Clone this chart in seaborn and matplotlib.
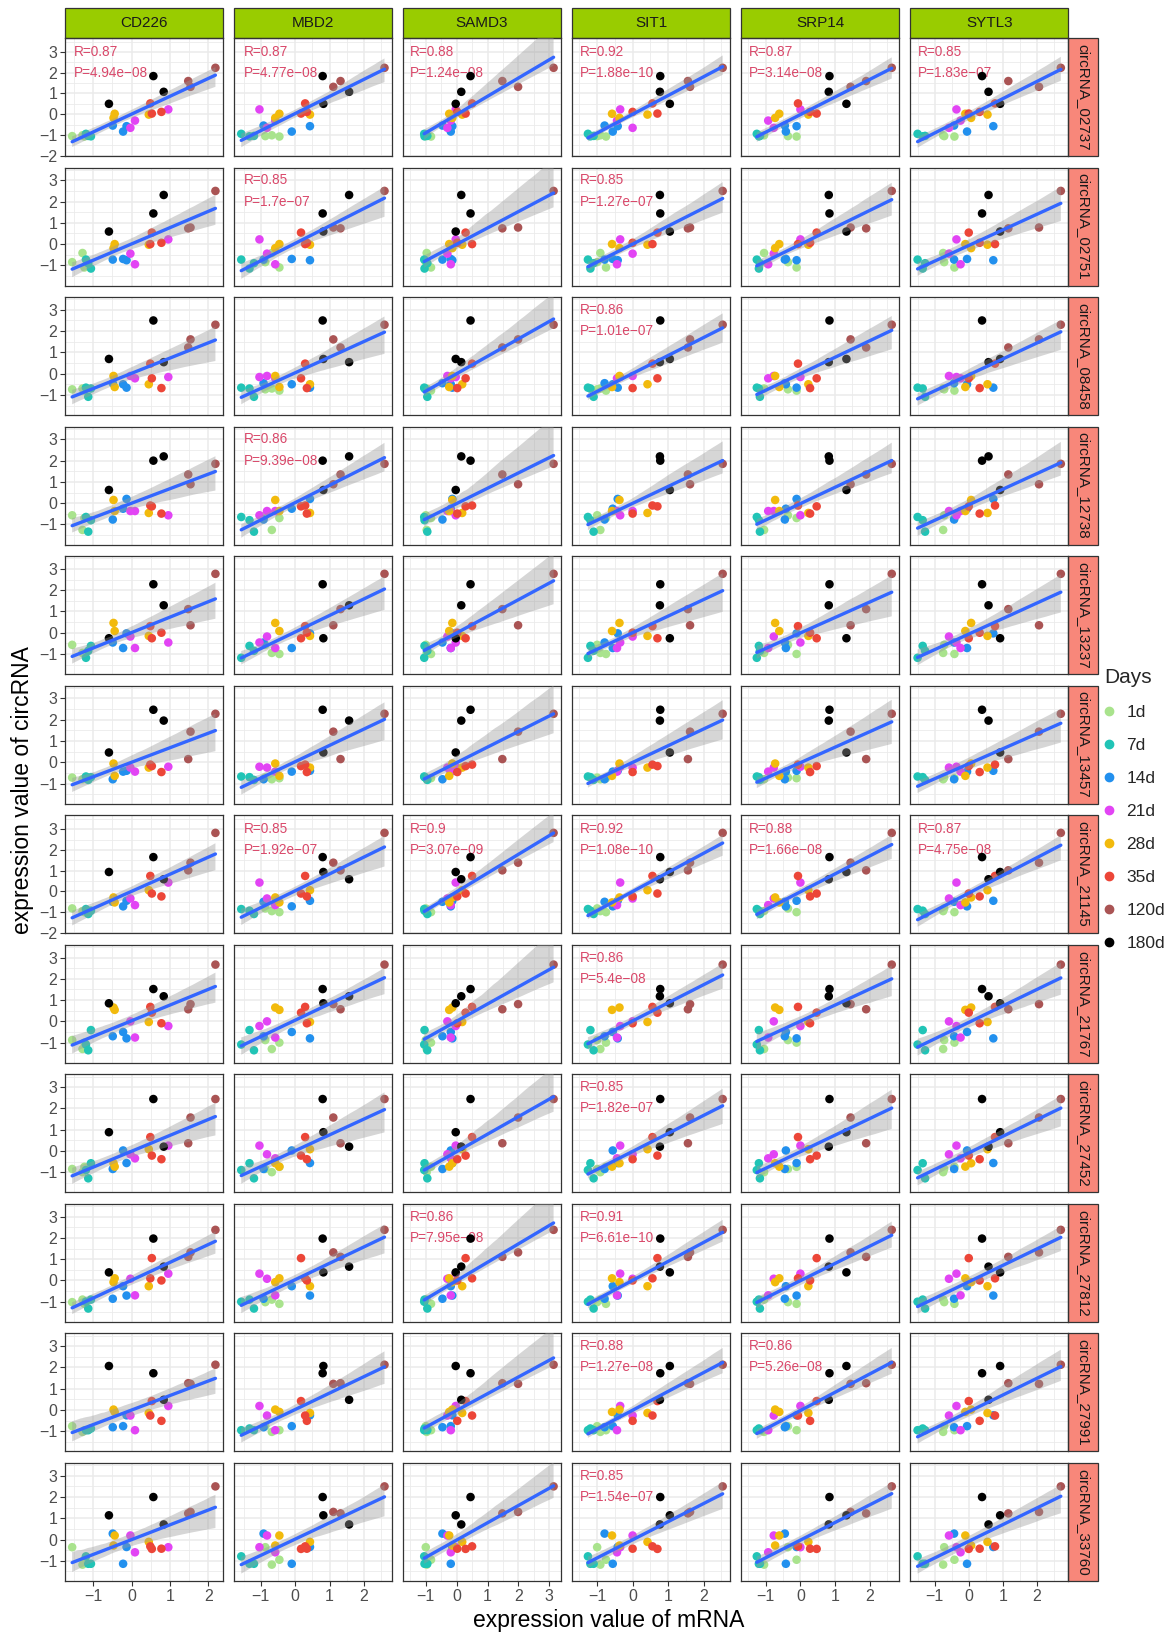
import matplotlib
matplotlib.use('Agg')
import pandas as pd
import matplotlib.pyplot as plt
import seaborn as sns
from matplotlib.patches import Rectangle
from matplotlib.lines import Line2D
from matplotlib.ticker import MultipleLocator

# --- data ---
days = ['1d', '7d', '14d', '21d', '28d', '35d', '120d', '180d']
day_colors = ['#A9E38D', '#21C4B6', '#2290EE', '#E244F4', '#F2BA0C', '#EC4638', '#AA5454', '#000000']
sample_days = [d for d in days for _ in range(3)]

mrna_names = ['CD226', 'MBD2', 'SAMD3', 'SIT1', 'SRP14', 'SYTL3']
cd226 = [-1.55, -1.28, -1.23, -1.19, -1.13, -1.06, -0.49, -0.22, -0.13, -0.03, 0.09, 0.96,
         -0.47, -0.44, 0.45, 0.49, 0.53, 0.78, 1.48, 1.54, 2.19, -0.59, 0.57, 0.84]
mbd2 = [-0.87, -0.68, -0.46, -1.57, -1.20, -1.33, -0.92, -0.10, 0.43, -0.82, -0.58, -1.04,
        -0.58, -0.46, 0.43, 0.29, 0.17, 0.34, 1.32, 1.11, 2.60, 0.82, 0.80, 1.57]
samd3 = [-1.00, -0.97, -0.83, -1.05, -0.95, -1.04, -0.46, -0.19, -0.14, -0.30, -0.19, -0.03,
         -0.14, -0.24, 0.18, 0.50, 0.29, 0.02, 1.48, 1.99, 3.14, -0.03, 0.45, 0.15]
sit1 = [-1.00, -0.91, -0.75, -1.26, -1.10, -1.19, -0.79, -0.56, -0.42, 0.00, -0.44, -0.35,
        -0.37, -0.58, 0.42, 0.56, 0.70, 0.00, 1.56, 1.62, 2.54, 1.05, 0.78, 0.77]
srp14 = [-0.36, -1.05, -0.11, -1.26, -1.17, -1.20, -0.45, -0.42, -0.11, -0.77, -0.93, 0.00,
         -0.73, -0.61, 0.23, -0.07, 0.47, 0.28, 1.90, 1.45, 2.64, 1.33, 0.84, 0.82]
sytl3 = [-0.72, -0.75, -0.42, -1.50, -1.28, -1.35, -0.43, -0.05, 0.72, -0.58, -0.24, -0.36,
         0.07, -0.10, 0.55, 0.77, 0.00, 0.32, 1.16, 2.06, 2.70, 0.92, 0.39, 0.58]
mrna_values = [cd226, mbd2, samd3, sit1, srp14, sytl3]

circ_names = ['circRNA_02737', 'circRNA_02751', 'circRNA_08458', 'circRNA_12738',
              'circRNA_13237', 'circRNA_13457', 'circRNA_21145', 'circRNA_21767',
              'circRNA_27452', 'circRNA_27812', 'circRNA_27991', 'circRNA_33760']
c02737 = [-1.06, -1.02, -1.08, -0.95, -1.05, -1.07, -0.55, -0.84, -0.58, -0.66, -0.31, 0.23,
          -0.18, 0.02, -0.02, 0.52, 0.03, 0.11, 1.60, 1.32, 2.24, 0.50, 1.84, 1.08]
c02751 = [-0.85, -0.42, -1.10, -0.73, -0.90, -1.15, -0.73, -0.70, -0.76, -0.45, -0.95, 0.22,
          -0.19, 0.00, -0.03, 0.00, 0.54, 0.06, 0.74, 0.78, 2.50, 0.59, 1.44, 2.31]
c08458 = [-0.74, -0.70, -0.80, -0.66, -1.09, -0.70, -0.45, -0.50, -0.66, -0.11, -0.22, -0.16,
          -0.11, -0.63, -0.50, 0.47, -0.22, -0.68, 1.23, 1.61, 2.30, 0.69, 2.50, 0.54]
c12738 = [-0.57, -1.26, -0.70, -0.65, -1.34, -0.80, -0.77, -0.26, 0.20, -0.37, -0.37, -0.57,
          0.15, -0.37, -0.46, -0.11, -0.15, -0.49, 1.35, 0.89, 1.85, 0.62, 2.00, 2.20]
c13237 = [-0.57, -0.95, -1.00, -1.18, -0.85, -0.62, -0.46, -0.72, -0.03, -0.18, -0.72, -0.46,
          0.46, 0.08, -0.15, 0.31, -0.26, 0.00, 1.11, 0.35, 2.77, -0.26, 2.28, 1.29]
c13457 = [-0.72, -0.80, -0.75, -0.67, -0.83, -0.70, -0.80, -0.44, -0.40, -0.25, -0.44, -0.21,
          -0.06, -0.64, -0.25, -0.11, -0.18, -0.46, 0.15, 1.44, 2.28, 0.46, 2.47, 1.96]
c21145 = [-0.82, -0.95, -1.00, -0.85, -1.09, -0.93, -0.50, -0.72, -0.45, -0.34, -0.66, 0.43,
          -0.29, -0.53, 0.06, 0.75, -0.10, -0.24, 1.02, 1.39, 2.83, 0.94, 1.66, 0.59]
c21767 = [-0.88, -1.30, -1.00, -1.09, -1.36, -0.41, -0.70, -0.50, -0.80, 0.00, -0.76, -0.22,
          0.65, 0.54, -0.03, 0.68, 0.41, -0.09, 0.57, 0.81, 2.67, 0.85, 1.52, 1.18]
c27452 = [-0.85, -1.00, -0.75, -0.90, -1.29, -0.58, -0.85, 0.02, -0.57, -0.16, -0.35, 0.25,
          -0.58, -0.74, 0.08, 0.65, -0.22, -0.39, 0.36, 1.57, 2.44, 0.88, 2.44, 0.20]
c27812 = [-1.02, -0.90, -1.10, -1.00, -1.32, -0.90, -0.86, -0.27, -0.71, 0.08, -0.70, 0.32,
          -0.08, 0.10, -0.27, 0.10, 1.05, 0.00, 1.11, 1.32, 2.38, 0.38, 1.97, 0.65]
c27991 = [-0.76, -1.03, -0.95, -0.95, -0.95, -0.87, -0.81, -0.76, -0.25, -0.26, -0.95, 0.19,
          0.02, -0.09, -0.14, -0.26, 0.42, -0.51, 1.26, 1.23, 2.13, 2.07, 1.73, 0.48]
c33760 = [-0.36, -1.18, -0.95, -0.79, -1.14, -1.14, 0.28, -1.14, -0.35, 0.19, -0.60, -0.36,
          -0.28, 0.19, -0.11, -0.32, -0.44, -0.43, 1.23, 1.30, 2.50, 1.14, 2.00, 0.71]
circ_values = [c02737, c02751, c08458, c12738, c13237, c13457,
               c21145, c21767, c27452, c27812, c27991, c33760]

# y range of each row as in the reference
row_ylow = [-2.02, -1.95, -1.95, -1.95, -1.95, -1.95, -2.02, -1.95, -1.95, -1.95, -1.95, -1.95]
row_yhigh = [3.68, 3.6, 3.6, 3.6, 3.6, 3.6, 3.68, 3.6, 3.6, 3.6, 3.6, 3.6]

# correlation labels shown in the reference (row, column, R, P)
cor_labels = [
    (0, 0, '0.87', '4.94e-08'), (0, 1, '0.87', '4.77e-08'), (0, 2, '0.88', '1.24e-08'),
    (0, 3, '0.92', '1.88e-10'), (0, 4, '0.87', '3.14e-08'), (0, 5, '0.85', '1.83e-07'),
    (1, 1, '0.85', '1.7e-07'), (1, 3, '0.85', '1.27e-07'),
    (2, 3, '0.86', '1.01e-07'),
    (3, 1, '0.86', '9.39e-08'),
    (6, 1, '0.85', '1.92e-07'), (6, 2, '0.9', '3.07e-09'), (6, 3, '0.92', '1.08e-10'),
    (6, 4, '0.88', '1.66e-08'), (6, 5, '0.87', '4.75e-08'),
    (7, 3, '0.86', '5.4e-08'),
    (8, 3, '0.85', '1.82e-07'),
    (9, 2, '0.86', '7.95e-08'), (9, 3, '0.91', '6.61e-10'),
    (10, 3, '0.88', '1.27e-08'), (10, 4, '0.86', '5.26e-08'),
    (11, 3, '0.85', '1.54e-07'),
]
label_x = -1.5

sns.set_theme(style='white')
plt.rcParams['font.family'] = ['Liberation Sans', 'DejaVu Sans']

W, H = 1170, 1636
fig, axes = plt.subplots(12, 6, figsize=(W / 100, H / 100), dpi=100, sharex='col', sharey='row')
fig.subplots_adjust(left=65 / W, right=1068 / W, top=1 - 38 / H, bottom=1 - 1581 / H,
                    wspace=0.073, hspace=0.098)
palette = dict(zip(days, day_colors))

for i in range(12):
    for j in range(6):
        ax = axes[i, j]
        df = pd.DataFrame({'x': mrna_values[j], 'y': circ_values[i], 'Days': sample_days})
        sns.scatterplot(data=df, x='x', y='y', hue='Days', hue_order=days, palette=palette,
                        s=38, edgecolor='none', linewidth=0, legend=False, ax=ax, zorder=3)
        sns.regplot(data=df, x='x', y='y', scatter=False, ci=95, seed=0, color='#3366FF',
                    line_kws={'lw': 2.4, 'zorder': 4}, ax=ax)
        band = ax.collections[-1]
        band.set_facecolor('#999999')
        band.set_edgecolor('none')
        band.set_alpha(0.4)
        band.set_zorder(3.5)
        ax.set_xlabel('')
        ax.set_ylabel('')

        xs = mrna_values[j]
        lo, hi = min(min(xs), label_x), max(xs)
        pad = 0.05 * (hi - lo)
        ax.set_xlim(lo - pad, hi + pad)
        ax.set_ylim(row_ylow[i], row_yhigh[i])

        for axis in (ax.xaxis, ax.yaxis):
            axis.set_major_locator(MultipleLocator(1))
            axis.set_minor_locator(MultipleLocator(0.5))
        ax.grid(True, which='major', color='#EBEBEB', lw=1.1)
        ax.grid(True, which='minor', color='#EBEBEB', lw=0.6)
        ax.set_axisbelow(True)
        for s in ax.spines.values():
            s.set_color('#333333')
            s.set_linewidth(0.9)
        ax.tick_params(which='minor', length=0, bottom=False, left=False)
        ax.tick_params(axis='x', which='major', bottom=(i == 11), length=3.5, width=0.8,
                       color='#333333', labelsize=11.5, labelcolor='#4D4D4D', pad=2)
        ax.tick_params(axis='y', which='major', left=(j == 0), length=3.5, width=0.8,
                       color='#333333', labelsize=11.5, labelcolor='#4D4D4D', pad=2)

# correlation text
for i, j, r, p in cor_labels:
    ax = axes[i, j]
    ax.text(label_x, 3.0, f'R={r}', ha='left', va='center', fontsize=9.8,
            color='#D9486A', zorder=2.5)
    ax.text(label_x, 2.0, 'P=' + p.replace('-', '\u2212'), ha='left', va='center',
            fontsize=9.8, color='#D9486A', zorder=2.5)

# facet strips
for j, name in enumerate(mrna_names):
    ax = axes[0, j]
    ph = ax.get_position().height * H
    sh = 30.5 / ph
    ax.add_patch(Rectangle((0, 1), 1, sh, transform=ax.transAxes, clip_on=False,
                           facecolor='#99CC00', edgecolor='#333333', lw=0.9))
    ax.text(0.5, 1 + sh / 2, name, transform=ax.transAxes, ha='center', va='center',
            fontsize=11, color='#1A1A1A')

for i, name in enumerate(circ_names):
    ax = axes[i, 5]
    pw = ax.get_position().width * W
    sw = 30 / pw
    ax.add_patch(Rectangle((1, 0), sw, 1, transform=ax.transAxes, clip_on=False,
                           facecolor='#F8877A', edgecolor='#333333', lw=0.9))
    ax.text(1 + sw / 2, 0.5, name, transform=ax.transAxes, ha='center', va='center',
            rotation=270, fontsize=11, color='#1A1A1A')

# legend
handles = [Line2D([], [], marker='o', ls='', color=c, markersize=6) for c in day_colors]
fig.legend(handles, days, title='Days', loc='upper left',
           bbox_to_anchor=(1104 / W, 1 - 668 / H), frameon=False, fontsize=12.5,
           title_fontsize=15, handlelength=0.6, handletextpad=0.7, labelspacing=1.03,
           borderpad=0, borderaxespad=0, alignment='left')

fig.text(609 / W, 1 - 1621 / H, 'expression value of mRNA', ha='center', va='center',
         fontsize=16.5, color='black')
fig.text(23 / W, 1 - 790 / H, 'expression value of circRNA', ha='center', va='center',
         rotation=90, fontsize=16.5, color='black')

fig.savefig('out.png', dpi=100)
plt.close(fig)
